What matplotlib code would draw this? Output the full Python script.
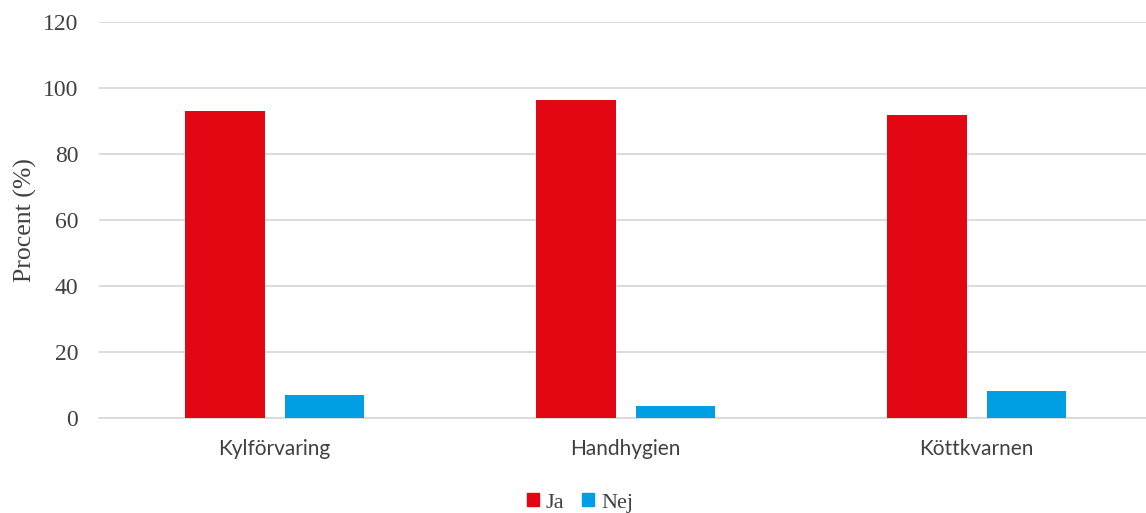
import numpy as np
import matplotlib
matplotlib.use('Agg')
import matplotlib.pyplot as plt
from matplotlib.patches import Patch

# Data
categories = ['Kylförvaring', 'Handhygien', 'Köttkvarnen']
ja = [93.0, 96.3, 91.9]
nej = [7.0, 3.7, 8.1]

red = '#E30613'
blue = '#009FE3'

fig = plt.figure(figsize=(11.46, 5.13), dpi=100)
ax = fig.add_axes([0.0864, 0.185, 0.919, 0.772])

x = np.arange(len(categories))
w = 0.227
ax.bar(x - 0.142, ja, w, color=red, label='Ja', zorder=3)
ax.bar(x + 0.142, nej, w, color=blue, label='Nej', zorder=3)

ax.set_xlim(-0.5, 2.5)
ax.set_ylim(0, 120)
ax.set_yticks(range(0, 121, 20))
ax.yaxis.grid(True, color='#d9d9d9', linewidth=1.3, zorder=0)
for s in ['top', 'right', 'left']:
    ax.spines[s].set_visible(False)
ax.spines['bottom'].set_color('#d9d9d9')
ax.spines['bottom'].set_linewidth(1.3)
ax.tick_params(length=0)
ax.tick_params(axis='y', pad=15)
ax.tick_params(axis='x', pad=15)

ax.set_xticks(x)
ax.set_xticklabels(categories, family='Lato', fontsize=15, color='#404040')
for t in ax.get_yticklabels():
    t.set_family('Liberation Serif')
    t.set_fontsize(17)
    t.set_color('#404040')

ax.set_ylabel('Procent (%)', family='Liberation Serif', fontsize=18.5, color='#404040', labelpad=4)

handles = [Patch(color=red, label='Ja'), Patch(color=blue, label='Nej')]
fig.legend(handles=handles, loc='center', bbox_to_anchor=(0.506, 0.02), ncol=2, frameon=False,
           prop={'family': 'Liberation Serif', 'size': 16}, handlelength=0.55, handleheight=0.55,
           handletextpad=0.3, columnspacing=0.8, labelcolor='#404040')

fig.savefig('out.png', dpi=100)
